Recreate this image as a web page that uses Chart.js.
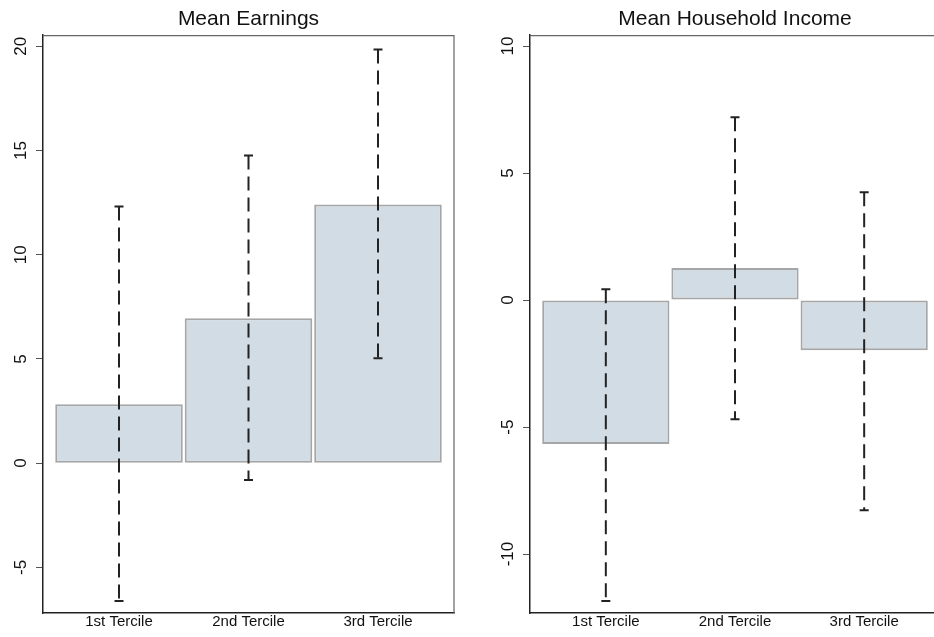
<!DOCTYPE html>
<html>
<head>
<meta charset="utf-8">
<script src="https://cdn.jsdelivr.net/npm/chart.js@4.4.1/dist/chart.umd.min.js"></script>
<style>
  html, body { margin: 0; padding: 0; background: #fff; overflow: hidden; }
  #wrap { position: relative; width: 934px; height: 637px; overflow: hidden; }
  canvas { position: absolute; top: 0; }
  #earnings { left: 0; }
  #income { left: 467px; }
</style>
</head>
<body>
<div id="wrap">
  <canvas id="earnings" width="497" height="637"></canvas>
  <canvas id="income" width="536" height="637"></canvas>
</div>
<script>
// categories
const terciles = ["1st Tercile", "2nd Tercile", "3rd Tercile"];
const tercilePos = [1, 2, 3];

// Mean Earnings (bar value + interval ends)
const earningsMean = [2.83, 6.95, 12.41];
const earningsLow = [-6.61, -0.81, 5.03];
const earningsHigh = [12.31, 14.76, 19.84];
const earningsTicks = [-5, 0, 5, 10, 15, 20];

// Mean Household Income
const incomeMean = [-5.67, 1.26, -1.97];
const incomeLow = [-11.85, -4.69, -8.27];
const incomeHigh = [0.43, 7.2, 4.25];
const incomeTicks = [-10, -5, 0, 5, 10];

Chart.defaults.font.family = "'Liberation Sans', Arial, Helvetica, sans-serif";
Chart.defaults.color = "#111";

// top + right edges of the plot box
const frame = {
  id: "frame",
  afterDraw(chart) {
    const a = chart.chartArea;
    const ctx = chart.ctx;
    ctx.save();
    ctx.strokeStyle = "#666";
    ctx.lineWidth = 1.2;
    ctx.beginPath();
    ctx.moveTo(a.left, a.top + 0.5);
    ctx.lineTo(a.right, a.top + 0.5);
    ctx.lineTo(a.right, a.bottom);
    ctx.stroke();
    ctx.restore();
  }
};

function errorPoints(low, high) {
  let pts = [];
  for (let i = 0; i < tercilePos.length; i++) {
    pts.push({ x: tercilePos[i], y: high[i] });
    pts.push({ x: tercilePos[i], y: low[i] });
    pts.push({ x: tercilePos[i] + 0.5, y: null });
  }
  return pts;
}

function makeChart(id, title, means, low, high, yTicks, yMin, yMax, yWidth, tickPad) {
  const ctx = document.getElementById(id).getContext("2d");
  return new Chart(ctx, {
    type: "bar",
    data: {
      datasets: [
        {
          type: "line",
          data: errorPoints(low, high),
          borderColor: "#222",
          borderWidth: 2,
          borderDash: [14, 7],
          spanGaps: false,
          pointStyle: "line",
          pointRadius: 4.5,
          pointBorderWidth: 2,
          pointBorderColor: "#222",
          order: 0
        },
        {
          type: "bar",
          data: tercilePos.map((p, i) => ({ x: p, y: means[i] })),
          backgroundColor: "#d2dce4",
          borderColor: "#a6a6a6",
          borderWidth: 2,
          borderSkipped: false,
          categoryPercentage: 1,
          barPercentage: 0.985,
          order: 1
        }
      ]
    },
    options: {
      responsive: false,
      animation: false,
      devicePixelRatio: 1,
      layout: { padding: 0 },
      plugins: {
        legend: { display: false },
        tooltip: { enabled: false },
        title: {
          display: true,
          text: title,
          color: "#111",
          font: { size: 21, weight: "normal" },
          padding: { top: 7, bottom: 3 }
        }
      },
      scales: {
        x: {
          type: "linear",
          offset: false,
          min: 0.413,
          max: 3.587,
          grid: { display: false, drawTicks: false },
          border: { display: true, color: "#222", width: 1.5 },
          afterBuildTicks: (s) => { s.ticks = tercilePos.map(v => ({ value: v })); },
          afterFit: (s) => { s.height = 24; },
          ticks: {
            autoSkip: false,
            maxRotation: 0,
            padding: 0,
            color: "#111",
            font: { size: 15 },
            callback: (v) => terciles[tercilePos.indexOf(v)]
          }
        },
        y: {
          min: yMin,
          max: yMax,
          grid: { display: true, drawOnChartArea: false, tickLength: 7, color: "#555", lineWidth: 1 },
          border: { display: true, color: "#222", width: 1.5 },
          afterBuildTicks: (s) => { s.ticks = yTicks.map(v => ({ value: v })); },
          afterFit: (s) => { s.width = yWidth; },
          ticks: {
            minRotation: 90,
            maxRotation: 90,
            crossAlign: "center",
            padding: tickPad,
            color: "#111",
            font: { size: 17 }
          }
        },
        // empty mirror axis so the title centres over the plot box
        yPad: {
          position: "right",
          min: yMin,
          max: yMax,
          grid: { display: false, drawTicks: false },
          border: { display: false },
          ticks: { display: false },
          afterFit: (s) => { s.width = yWidth; }
        }
      }
    },
    plugins: [frame]
  });
}

makeChart("earnings", "Mean Earnings", earningsMean, earningsLow, earningsHigh,
  earningsTicks, -7.19, 20.53, 43, 5);
makeChart("income", "Mean Household Income", incomeMean, incomeLow, incomeHigh,
  incomeTicks, -12.32, 10.43, 63, 2);
</script>
</body>
</html>
